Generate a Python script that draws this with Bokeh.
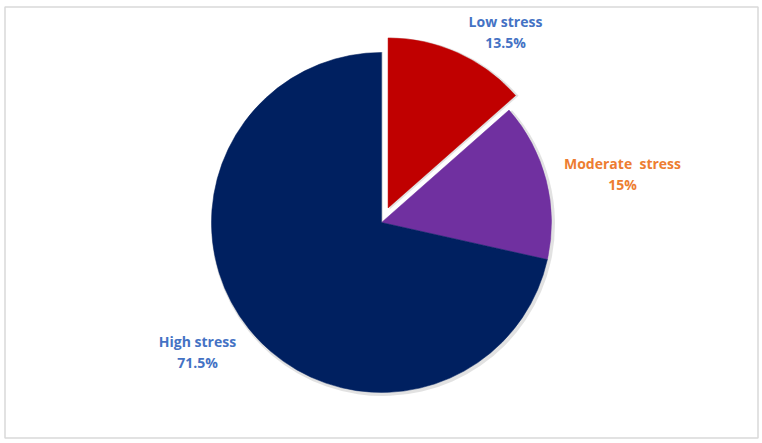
import math
from bokeh.plotting import figure
from bokeh.models import Range1d, ColumnDataSource
from bokeh.core.properties import value
from bokeh.embed import file_html
from bokeh.resources import INLINE

categories = ["Low stress", "Moderate\u00a0\u00a0stress", "High stress"]
percents = [13.5, 15.0, 71.5]
pct_labels = ["13.5%", "15%", "71.5%"]
colors = ["#C00000", "#7030A0", "#002060"]
label_colors = ["#4472C4", "#ED7D31", "#4472C4"]
explode = [16, 0, 0]

W, H = 762, 443
p = figure(width=W, height=H, output_backend="svg", toolbar_location=None,
           x_range=Range1d(0, W), y_range=Range1d(0, H), min_border=0)
p.axis.visible = False
p.grid.visible = False
p.outline_line_color = None
p.background_fill_color = "white"
p.border_fill_color = "white"

# chart border
p.quad(left=[4.5], right=[757.5], bottom=[H - 437.5], top=[H - 6.5],
       fill_color=None, line_color="#D9D9D9", line_width=1.5)

cx, cy, r = 381, H - 222, 170
total = sum(percents)
cum = 0.0
xs, ys, starts, ends = [], [], [], []
for i, v in enumerate(percents):
    t1 = cum / total * 2 * math.pi
    t2 = (cum + v) / total * 2 * math.pi
    mid = (t1 + t2) / 2
    dx = explode[i] * math.sin(mid)
    dy = explode[i] * math.cos(mid)
    xs.append(cx + dx)
    ys.append(cy + dy)
    starts.append(math.pi / 2 - t2)
    ends.append(math.pi / 2 - t1)
    cum += v

src = ColumnDataSource(dict(x=xs, y=ys, start=starts, end=ends, color=colors))
# soft shadow
shadow = ColumnDataSource(dict(x=[x + 1.5 for x in xs], y=[y - 1.5 for y in ys],
                               start=starts, end=ends))
p.wedge(x="x", y="y", radius=r + 2, start_angle="start", end_angle="end",
        source=shadow, fill_color="#BFBFBF", fill_alpha=0.45, line_color=None)
p.wedge(x="x", y="y", radius=r, start_angle="start", end_angle="end",
        source=src, fill_color="color", line_color="color", line_width=0.5)

# labels
lx = [505, 622, 197]
ly = [H - 21, H - 163, H - 341]
for i in range(3):
    p.text(x=[lx[i]], y=[ly[i]], text=[categories[i]], text_align="center",
           text_baseline="middle", text_font=value("Open Sans"),
           text_font_style="bold", text_font_size="14px", text_color=label_colors[i])
    p.text(x=[lx[i]], y=[ly[i] - 21], text=[pct_labels[i]], text_align="center",
           text_baseline="middle", text_font=value("Open Sans"),
           text_font_style="bold", text_font_size="14px", text_color=label_colors[i])

open("out.html", "w").write(file_html(p, INLINE))
